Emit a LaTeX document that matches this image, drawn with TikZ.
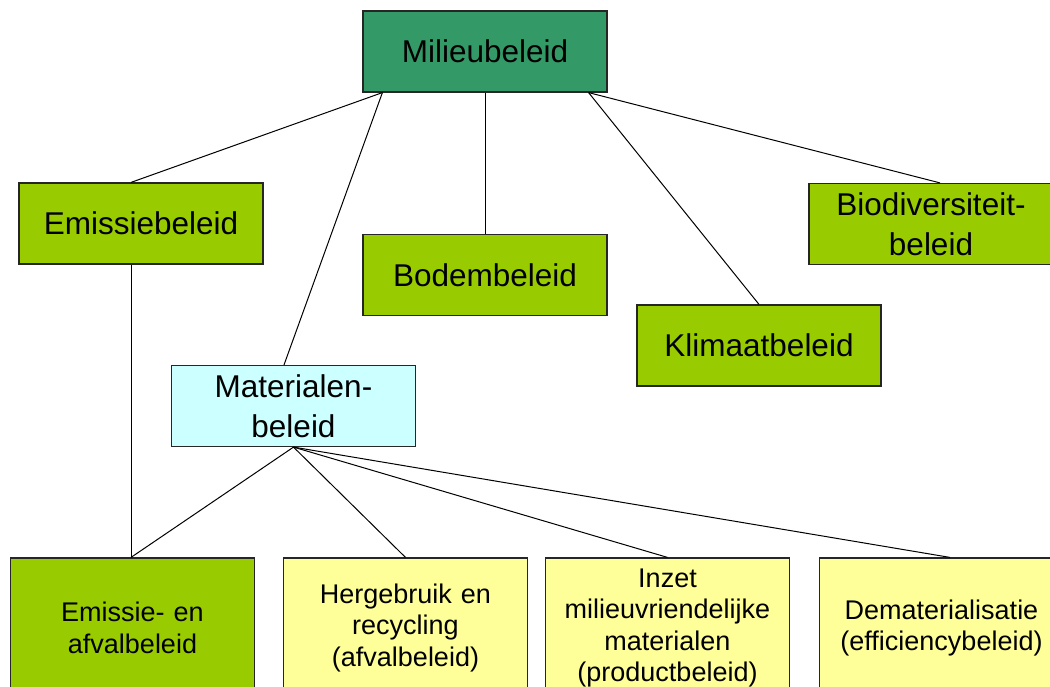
\documentclass[tikz,border=0pt]{standalone}
\usepackage{fontspec}
\setmainfont{Liberation Sans}
\usetikzlibrary{positioning}
\definecolor{GreenDark}{HTML}{339966}
\definecolor{GreenLight}{HTML}{99CC00}
\definecolor{CyanLight}{HTML}{CCFFFF}
\definecolor{YellowLight}{HTML}{FFFF99}
\tikzset{
    beleid/.style={draw=black!85, line width=1.2pt, inner sep=0pt, minimum width=244pt, minimum height=81pt, align=center, font=\fontsize{31.5}{40}\selectfont},
    subbeleid/.style={beleid, minimum height=140pt, text width=230pt, font=\fontsize{27}{31.5}\selectfont},
    tak/.style={line width=1pt}
}

\begin{document}
\begin{tikzpicture}[x=1pt,y=-1pt]
    \useasboundingbox (0,0) rectangle (1050,686);
    %%Boxes
    \node[beleid, fill=GreenDark] (mil) at (485,51.5) {Milieubeleid};
    \node[beleid, fill=GreenLight] (emis) at (141,223.5) {Emissiebeleid};
    \node[beleid, fill=GreenLight] (bodem) at (485,275) {Bodembeleid};
    \node[beleid, fill=GreenLight] (klimaat) at (759,345.5) {Klimaatbeleid};
    \node[beleid, fill=GreenLight] (bio) at (931,224) {Biodiversiteit-\\beleid};
    \node[beleid, fill=CyanLight] (mat) at (293.5,406) {Materialen-\\beleid};
    \node[subbeleid, fill=GreenLight] (afval) at (132.5,628) {Emissie- en\\afvalbeleid};
    \node[subbeleid, fill=YellowLight] (herg) at (405.5,628) {Hergebruik en\\recycling\\(afvalbeleid)};
    \node[subbeleid, fill=YellowLight] (inzet) at (667.5,628) {Inzet\\milieuvriendelijke\\materialen\\(productbeleid)};
    \node[subbeleid, fill=YellowLight] (demat) at (941.5,628) {Dematerialisatie\\(efficiencybeleid)};
    %%Lines from Milieubeleid
    \draw[tak] ([xshift=20pt]mil.south west) to ([xshift=-10pt]emis.north);
    \draw[tak] ([xshift=20pt]mil.south west) to ([xshift=-9.5pt]mat.north);
    \draw[tak] (mil.south) to (bodem.north);
    \draw[tak] ([xshift=-19pt]mil.south east) to (klimaat.north);
    \draw[tak] ([xshift=-19pt]mil.south east) to ([xshift=9pt]bio.north);
    \draw[tak] ([xshift=-10pt]emis.south) to ([xshift=-1.5pt]afval.north);
    %%Lines from Materialenbeleid
    \foreach \sub/\dx in {afval/-1.5,herg/0,inzet/0,demat/8.5}
    {
    \draw[tak] (mat.south) to ([xshift=\dx pt]\sub.north);
    }
\end{tikzpicture}
\end{document}
